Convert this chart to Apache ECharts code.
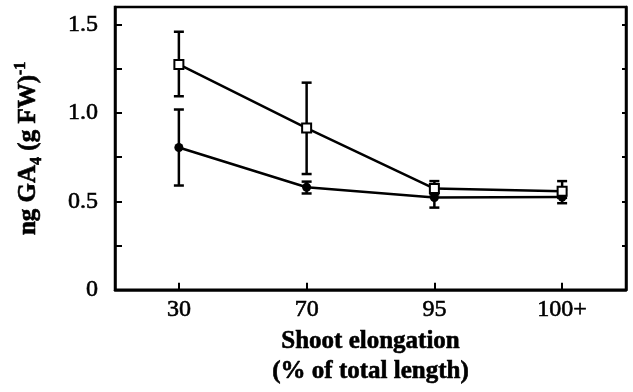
<!DOCTYPE html>
<html>
<head>
<meta charset="utf-8">
<script src="https://cdn.jsdelivr.net/npm/echarts@6/dist/echarts.min.js"></script>
<style>
  html, body { margin: 0; padding: 0; background: #fff; }
  #main { width: 633px; height: 392px; }
</style>
</head>
<body>
<div id="main"></div>
<script>
// shoot elongation stages
const categories = ["30", "70", "95", "100+"];

// open squares
const squareMean = [1.275, 0.915, 0.573, 0.558];
const squareLow = [1.095, 0.655, 0.54, 0.52];
const squareHigh = [1.46, 1.172, 0.615, 0.615];

// filled circles
const circleMean = [0.805, 0.58, 0.522, 0.525];
const circleLow = [0.59, 0.545, 0.465, 0.49];
const circleHigh = [1.02, 0.612, 0.55, 0.565];

const yTicks = [0, 0.5, 1.0, 1.5];

const font = "Liberation Serif";

const chart = echarts.init(document.getElementById("main"));

// error bar data: [index, low, high]
function errData(low, high) {
  return low.map((v, i) => [i, v, high[i]]);
}

function renderErr(params, api) {
  const x = api.value(0);
  const lo = api.coord([x, api.value(1)]);
  const hi = api.coord([x, api.value(2)]);
  const w = 5;
  const style = { stroke: "#000", lineWidth: 2.5 };
  return {
    type: "group",
    children: [
      { type: "line", shape: { x1: lo[0], y1: lo[1], x2: hi[0], y2: hi[1] }, style },
      { type: "line", shape: { x1: hi[0] - w, y1: hi[1], x2: hi[0] + w, y2: hi[1] }, style },
      { type: "line", shape: { x1: lo[0] - w, y1: lo[1], x2: lo[0] + w, y2: lo[1] }, style },
    ],
  };
}

// makes the thin serif look a bit heavier, like the scan
const ink = { textBorderColor: "#000", textBorderWidth: 0.6 };

const yAxisBase = {
  type: "value",
  min: 0,
  max: 1.6,
  interval: 0.25,
  splitLine: { show: false },
  axisLine: { show: true, lineStyle: { color: "#000", width: 2.5 } },
};

chart.setOption({
  backgroundColor: "#fff",
  animation: false,
  grid: {
    left: 115,
    right: 7,
    top: 7,
    bottom: 100,
    show: true,
    borderColor: "#000",
    borderWidth: 2.5,
  },
  xAxis: {
    type: "category",
    data: categories,
    boundaryGap: true,
    axisLine: { show: true, lineStyle: { color: "#000", width: 2.5 } },
    axisTick: { show: true, inside: true, alignWithLabel: true, length: 7, lineStyle: { color: "#000", width: 2 } },
    axisLabel: { color: "#000", fontFamily: font, fontSize: 24, margin: 8, ...ink },
    name: "Shoot elongation\n(% of total length)",
    nameLocation: "middle",
    nameGap: 30,
    nameTextStyle: {
      color: "#000",
      fontFamily: font,
      fontWeight: "bold",
      fontSize: 25,
      lineHeight: 30,
      ...ink,
    },
  },
  yAxis: [
    {
      ...yAxisBase,
      position: "left",
      axisTick: { show: true, inside: true, length: 7, lineStyle: { color: "#000", width: 2 } },
      axisLabel: {
        color: "#000",
        fontFamily: font,
        fontSize: 24,
        margin: 17,
        ...ink,
        formatter: (v) => {
          const t = yTicks.find((k) => Math.abs(k - v) < 1e-6);
          if (t === undefined) return "";
          return t === 0 ? "0" : t.toFixed(1);
        },
      },
      name: "ng GA{sub|4} (g FW){sup|-1}",
      nameLocation: "middle",
      nameGap: 70,
      nameTextStyle: {
        color: "#000",
        fontFamily: font,
        fontWeight: "bold",
        fontSize: 25,
        lineHeight: 32,
        ...ink,
        rich: {
          sub: { fontFamily: font, fontWeight: "bold", fontSize: 16, lineHeight: 16, verticalAlign: "bottom", color: "#000", ...ink },
          sup: { fontFamily: font, fontWeight: "bold", fontSize: 16, lineHeight: 16, verticalAlign: "top", color: "#000", ...ink },
        },
      },
    },
    {
      ...yAxisBase,
      position: "right",
      axisTick: { show: true, inside: true, length: 4, lineStyle: { color: "#000", width: 2 } },
      axisLabel: { show: false },
    },
  ],
  series: [
    {
      type: "custom",
      renderItem: renderErr,
      data: errData(squareLow, squareHigh),
      z: 1,
    },
    {
      type: "custom",
      renderItem: renderErr,
      data: errData(circleLow, circleHigh),
      z: 1,
    },
    {
      type: "line",
      data: circleMean,
      symbol: "circle",
      symbolSize: 9,
      lineStyle: { color: "#000", width: 2.5 },
      itemStyle: { color: "#000" },
      z: 3,
    },
    {
      type: "line",
      data: squareMean,
      symbol: "rect",
      symbolSize: 9,
      lineStyle: { color: "#000", width: 2.5 },
      itemStyle: { color: "#fff", borderColor: "#000", borderWidth: 2 },
      z: 4,
    },
  ],
});
</script>
</body>
</html>
